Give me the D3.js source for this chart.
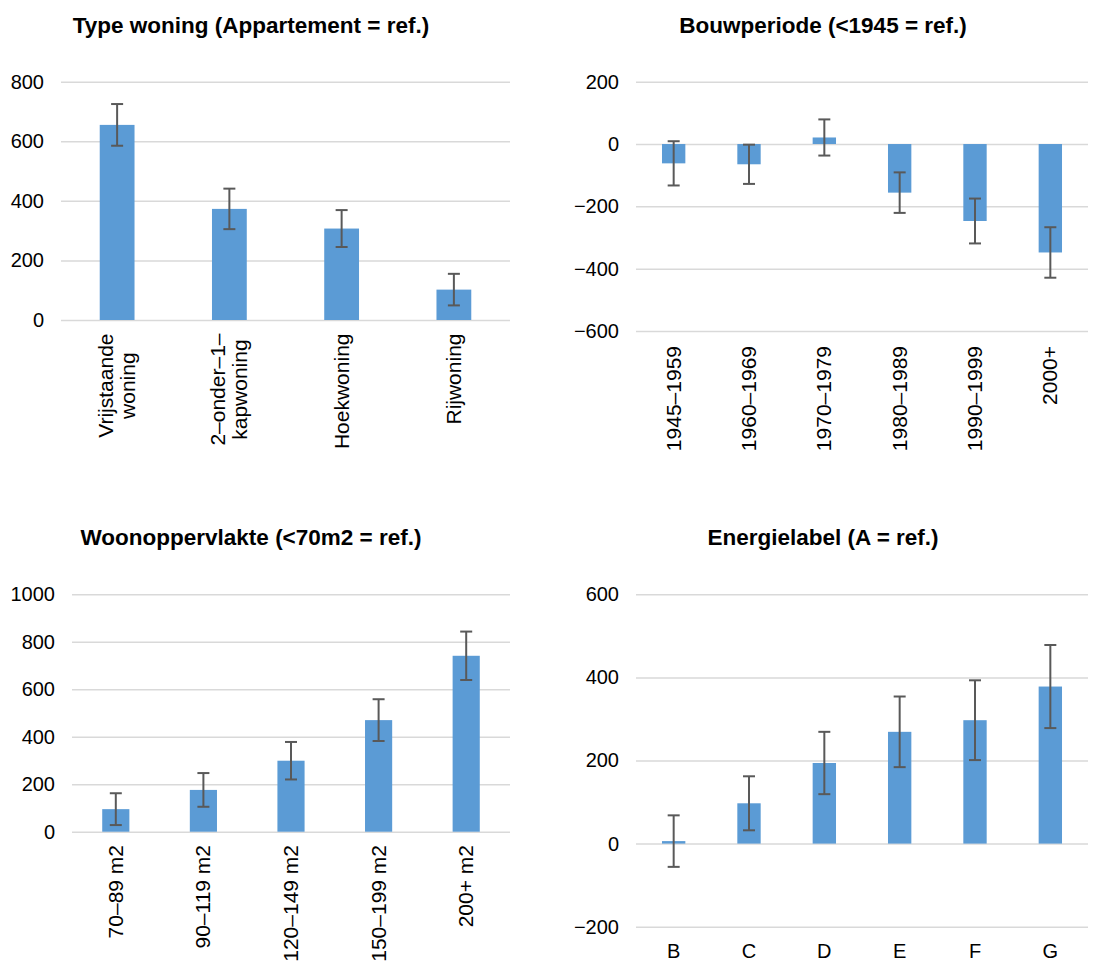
<!DOCTYPE html>
<html>
<head>
<meta charset="utf-8">
<script src="https://cdn.jsdelivr.net/npm/d3@7"></script>
<style>
  html, body { margin: 0; padding: 0; background: #fff; }
  svg { display: block; font-family: "Liberation Sans", Arial, sans-serif; }
</style>
</head>
<body>
<svg id="chart" width="1108" height="963"></svg>
<script>
// ---- Data ----
const typeCategories = ["Vrijstaande\nwoning", "2–onder–1–\nkapwoning", "Hoekwoning", "Rijwoning"];
const typeValues = [655, 373, 307, 102];
const typeErrors = [70, 68, 62, 53];
const typeTicks = [0, 200, 400, 600, 800];

const periodCategories = ["1945–1959", "1960–1969", "1970–1979", "1980–1989", "1990–1999", "2000+"];
const periodValues = [-62, -65, 21, -156, -247, -348];
const periodErrors = [71, 63, 58, 65, 72, 81];
const periodTicks = [-600, -400, -200, 0, 200];

const areaCategories = ["70–89 m2", "90–119 m2", "120–149 m2", "150–199 m2", "200+ m2"];
const areaValues = [95, 176, 299, 470, 741];
const areaErrors = [67, 71, 79, 88, 102];
const areaTicks = [0, 200, 400, 600, 800, 1000];

const labelCategories = ["B", "C", "D", "E", "F", "G"];
const labelValues = [6, 97, 194, 269, 297, 378];
const labelErrors = [62, 65, 75, 85, 96, 100];
const labelTicks = [-200, 0, 200, 400, 600];

const titles = ["Type woning (Appartement = ref.)", "Bouwperiode (<1945 = ref.)",
                "Woonoppervlakte (<70m2 = ref.)", "Energielabel (A = ref.)"];

// ---- Drawing ----
const svg = d3.select("#chart");
const BAR = "#5B9BD5", GRID = "#D9D9D9", ERR = "#595959";

function panel(cfg) {
  const g = svg.append("g");
  const x = d3.scaleBand().domain(cfg.cats).range([cfg.left, cfg.right])
    .paddingInner(0.69).paddingOuter(0.345);
  const y = d3.scaleLinear().domain([cfg.ticks[0], cfg.ticks[cfg.ticks.length - 1]])
    .range([cfg.bottom, cfg.top]);

  // title
  g.append("text").attr("x", cfg.titleX).attr("y", cfg.titleY)
    .attr("text-anchor", "middle").attr("font-size", 22.5).attr("font-weight", "bold")
    .attr("fill", "#000").text(cfg.title);

  // gridlines
  const yAxis = d3.axisLeft(y).tickValues(cfg.ticks).tickSize(-(cfg.right - cfg.left))
    .tickPadding(17).tickFormat(d3.format("d"));
  const ga = g.append("g").attr("transform", `translate(${cfg.left},0)`).call(yAxis);
  ga.select(".domain").remove();
  ga.selectAll(".tick line").attr("stroke", GRID).attr("stroke-width", 1.5);
  ga.selectAll(".tick text").attr("font-size", 20).attr("fill", "#000")
    .attr("font-family", "Liberation Sans, Arial, sans-serif");

  // bars
  g.selectAll("rect.bar").data(cfg.vals).enter().append("rect")
    .attr("x", (d, i) => x(cfg.cats[i]))
    .attr("width", x.bandwidth())
    .attr("y", d => y(Math.max(0, d)))
    .attr("height", d => Math.abs(y(d) - y(0)))
    .attr("fill", BAR);

  // error bars
  const cap = 6;
  cfg.vals.forEach((v, i) => {
    const cx = x(cfg.cats[i]) + x.bandwidth() / 2;
    const e = cfg.errs[i];
    const y1 = y(v + e), y2 = y(v - e);
    g.append("line").attr("x1", cx).attr("x2", cx).attr("y1", y1).attr("y2", y2)
      .attr("stroke", ERR).attr("stroke-width", 2);
    [y1, y2].forEach(yy => g.append("line").attr("x1", cx - cap).attr("x2", cx + cap)
      .attr("y1", yy).attr("y2", yy).attr("stroke", ERR).attr("stroke-width", 2));
  });

  // category labels
  cfg.cats.forEach((c, i) => {
    const cx = x(c) + x.bandwidth() / 2;
    if (cfg.horizontal) {
      g.append("text").attr("x", cx).attr("y", cfg.labelY).attr("text-anchor", "middle")
        .attr("font-size", 20).attr("fill", "#000").text(c);
      return;
    }
    const lines = c.split("\n");
    const t = g.append("text").attr("font-size", 21).attr("fill", "#000")
      .attr("text-anchor", "middle");
    const lh = 22;
    const spans = lines.map((ln, k) => t.append("tspan").attr("x", 0)
      .attr("y", (k - (lines.length - 1) / 2) * lh + 7).text(ln));
    let maxW = 0;
    spans.forEach(s => { maxW = Math.max(maxW, s.node().getComputedTextLength()); });
    const cy = cfg.labelTop + maxW / 2;
    t.attr("transform", `translate(${cx},${cy}) rotate(-90)`);
  });
}

panel({ title: titles[0], titleX: 251, titleY: 33, cats: typeCategories, vals: typeValues,
  errs: typeErrors, ticks: typeTicks, left: 61, right: 510, top: 81.7, bottom: 320,
  labelTop: 333.5 });
panel({ title: titles[1], titleX: 823, titleY: 33, cats: periodCategories, vals: periodValues,
  errs: periodErrors, ticks: periodTicks, left: 636, right: 1088, top: 81.7, bottom: 331,
  labelTop: 346 });
panel({ title: titles[2], titleX: 251, titleY: 545, cats: areaCategories, vals: areaValues,
  errs: areaErrors, ticks: areaTicks, left: 72, right: 510, top: 594.3, bottom: 831.7,
  labelTop: 845 });
panel({ title: titles[3], titleX: 823, titleY: 545, cats: labelCategories, vals: labelValues,
  errs: labelErrors, ticks: labelTicks, left: 636, right: 1088, top: 594.3, bottom: 926.7,
  horizontal: true, labelY: 958 });
</script>
</body>
</html>
